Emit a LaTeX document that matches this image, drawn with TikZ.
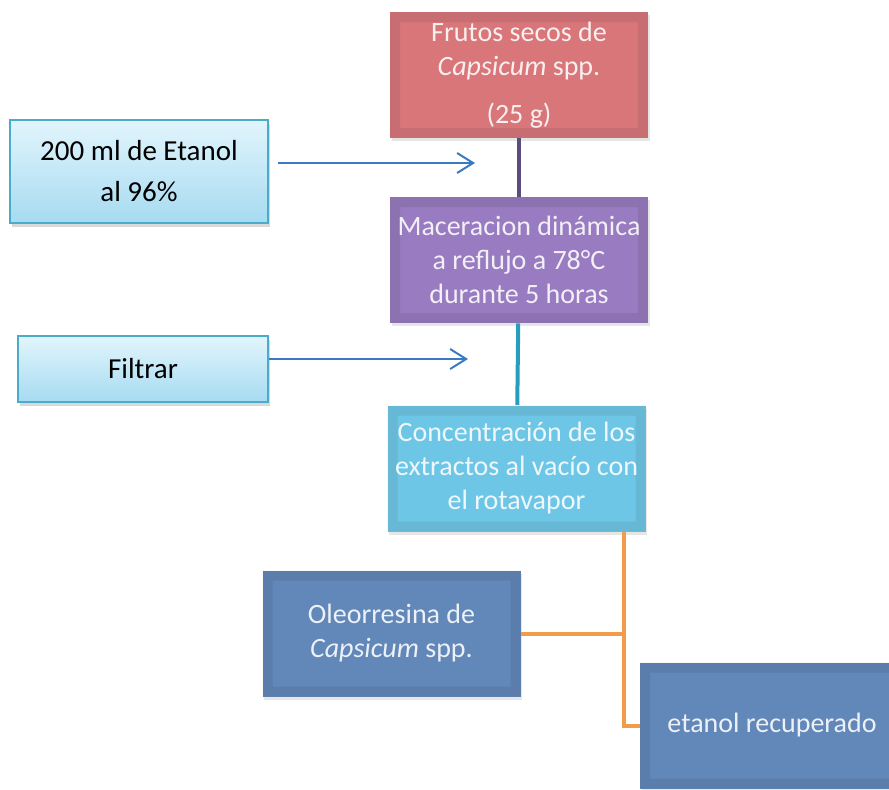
\documentclass[tikz,border=0pt]{standalone}
\usepackage{fontspec}
\setmainfont{Carlito}
\usetikzlibrary{positioning,arrows.meta,shadows}
\definecolor{rojo}{RGB}{216,118,122}
\definecolor{lila}{RGB}{152,123,192}
\definecolor{celeste}{RGB}{110,198,230}
\definecolor{azulgris}{RGB}{98,135,185}
\definecolor{celesteA}{RGB}{226,245,252}
\definecolor{celesteB}{RGB}{166,219,241}
\definecolor{bordeazul}{RGB}{72,172,202}
\definecolor{azulflecha}{RGB}{58,122,194}
\definecolor{lineamora}{RGB}{90,76,124}
\definecolor{lineateal}{RGB}{40,158,190}
\definecolor{naranja}{RGB}{242,155,74}
\tikzset{
	bevel/.style={path picture={\fill[black,opacity=.07,even odd rule] (path picture bounding box.south west) rectangle (path picture bounding box.north east) ([shift={(5pt,5pt)}]path picture bounding box.south west) rectangle ([shift={(-5pt,-5pt)}]path picture bounding box.north east);}},
	paso/.style={align=center, inner sep=0pt, minimum width=129pt, minimum height=63pt, font=\fontsize{14}{17}\selectfont, drop shadow={opacity=.2,shadow xshift=.8pt,shadow yshift=-1.5pt}, bevel},
	entrada/.style={draw=bordeazul, line width=1pt, top color=celesteA, bottom color=celesteB, align=center, inner sep=0pt, font=\fontsize{14.5}{20.5}\selectfont, drop shadow={opacity=.3,shadow xshift=1pt,shadow yshift=-2pt}},
	flecha/.style={draw=azulflecha, line width=1pt, -{Straight Barb[length=8pt,width=10pt]}},
	union/.style={line width=2pt}
}

\begin{document}
\begin{tikzpicture}[x=0.5pt,y=-0.5pt]
	\useasboundingbox (0,0) rectangle (889,789);

	% pasos del proceso
	\node[paso, fill=rojo, text=white!88!rojo] (frutos) at (519,75) {Frutos secos de\\ \textit{Capsicum} spp.\\[7pt] (25 g)};
	\node[paso, fill=lila, text=white!88!lila] (mac) at (519,260) {Maceracion dinámica\\ a reflujo a 78°C\\ durante 5 horas};
	\node[paso, fill=celeste, text=white!88!celeste] (conc) at (516.5,468.5) {Concentración de los\\ extractos al vacío con\\ el rotavapor};
	\node[paso, fill=azulgris, text=white!88!azulgris] (oleo) at (391.5,633.5) {Oleorresina de\\ \textit{Capsicum} spp.};
	\node[paso, fill=azulgris, text=white!88!azulgris, minimum width=132pt] (recup) at (772,725.5) {etanol recuperado};

	% entradas
	\node[entrada, minimum width=129pt, minimum height=51.5pt] (etanol) at (139,171.5) {200 ml de Etanol\\ al 96\%};
	\node[entrada, minimum width=125pt, minimum height=33pt] (filtrar) at (143,369) {Filtrar};

	\coordinate (a1) at (475,163);
	\coordinate (a2) at (468,359);
	\coordinate (ramal) at (624,0);

	\draw [union, lineamora] (frutos) -- (mac);
	\draw [union, lineateal] (mac) -- (conc);
	\draw [flecha] ([xshift=4.5pt]etanol.east |- a1) -- (a1);
	\draw [flecha] (filtrar.east |- a2) -- (a2);

	\draw [union, naranja] (conc.south -| ramal) |- (recup.west);
	\draw [union, naranja] (oleo.east) -- (oleo.east -| ramal);
\end{tikzpicture}
\end{document}
